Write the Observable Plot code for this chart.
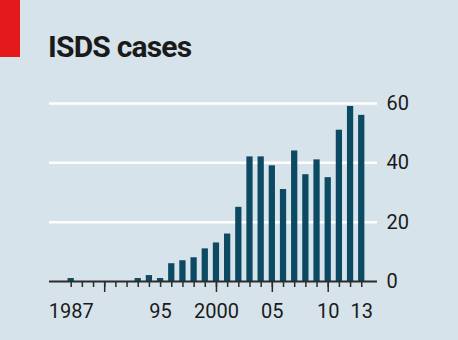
<!DOCTYPE html>
<html>
<head>
<meta charset="utf-8">
<script src="https://cdn.jsdelivr.net/npm/d3@7"></script>
<script src="https://cdn.jsdelivr.net/npm/@observablehq/plot@0.6"></script>
<style>
  html, body { margin: 0; padding: 0; background: #d7e3ea; }
  #wrap { position: relative; width: 458px; height: 340px; overflow: hidden; background: #d7e3ea; font-family: Roboto, sans-serif; }
  #red { position: absolute; left: 0; top: 0; width: 20px; height: 57px; background: #e3191b; }
  #title { position: absolute; left: 48px; top: 32px; font-size: 30px; line-height: 1; font-weight: 700; color: #1a1a1a; letter-spacing: -0.8px; }
  #chart { position: absolute; left: 0; top: 80px; }
</style>
</head>
<body>
<div id="wrap">
  <div id="red"></div>
  <div id="title">ISDS cases</div>
  <div id="chart"></div>
</div>
<script>
const years = d3.range(1987, 2014);
const cases = [1, 0, 0, 0, 0, 0, 1, 2, 1, 6, 7, 8, 11, 13, 16, 25, 42, 42, 39, 31, 44, 36, 41, 35, 51, 59, 56];
const yTicks = [0, 20, 40, 60];
const labelYears = [1987, 1995, 2000, 2005, 2010, 2013];
const labelText = ["1987", "95", "2000", "05", "10", "13"];
const longTickYears = [1990, 2000, 2005, 2010];

const data = years.map((y, i) => ({year: y, value: cases[i]}));
const halfBar = 0.28;

const plot = Plot.plot({
  width: 458,
  height: 260,
  marginLeft: 49,
  marginRight: 81,
  marginTop: 23,
  marginBottom: 59,
  style: {background: "transparent", fontFamily: "Roboto, sans-serif", color: "#1a1a1a"},
  x: {type: "linear", domain: [1985.06, 2014.41], axis: null},
  y: {domain: [0, 60], axis: null},
  marks: [
    Plot.ruleY(yTicks.filter(d => d > 0), {stroke: "white", strokeWidth: 2.5}),
    Plot.rectY(data, {x1: d => d.year - halfBar, x2: d => d.year + halfBar, y: "value", fill: "#0c4a64"}),
    Plot.ruleY([0], {stroke: "#2b2b2b", strokeWidth: 2}),
    Plot.axisX({ticks: years, tickSize: 6, tickFormat: () => "", label: null, stroke: "#2b2b2b", strokeWidth: 1.5}),
    Plot.axisX({ticks: longTickYears, tickSize: 11, tickFormat: () => "", label: null, stroke: "#2b2b2b", strokeWidth: 1.5}),
    Plot.axisX({ticks: labelYears, tickSize: 0, tickPadding: 22, fontSize: 20, label: null,
      tickFormat: d => labelText[labelYears.indexOf(d)], fill: "#1a1a1a"}),
    Plot.axisY({anchor: "right", ticks: yTicks, tickSize: 0, tickPadding: 9, fontSize: 20, label: null, fill: "#1a1a1a"})
  ]
});
document.getElementById("chart").appendChild(plot);
</script>
</body>
</html>
